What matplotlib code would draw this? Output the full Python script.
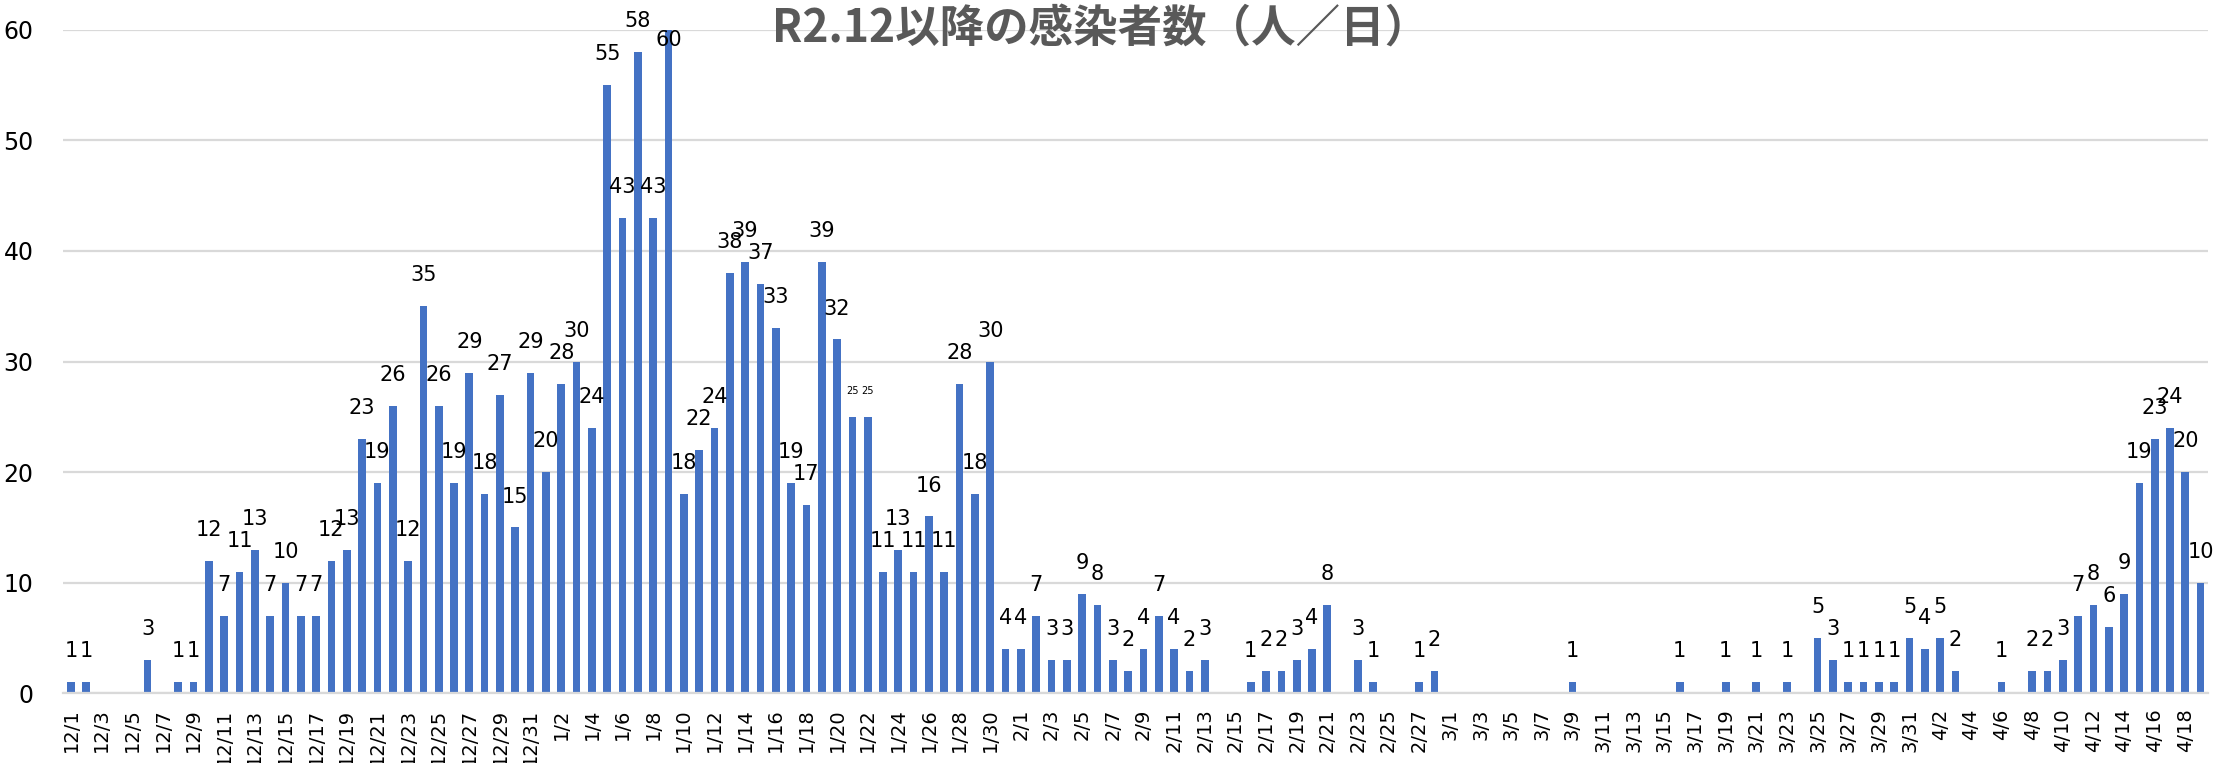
import matplotlib
matplotlib.use('Agg')
import matplotlib.pyplot as plt
import pandas as pd

title = 'R2.12以降の感染者数（人／日）'

# one bar per day, 12/1 .. 4/19
dates = pd.date_range('2020-12-01', '2021-04-19', freq='D')
day_labels = [f'{d.month}/{d.day}' for d in dates]

dec_counts = [1, 1, 0, 0, 0, 3, 0, 1, 1, 12, 7, 11, 13, 7, 10, 7, 7, 12, 13, 23,
              19, 26, 12, 35, 26, 19, 29, 18, 27, 15, 29]
jan_counts = [20, 28, 30, 24, 55, 43, 58, 43, 60, 18, 22, 24, 38, 39, 37, 33, 19, 17,
              39, 32, 25, 25, 11, 13, 11, 16, 11, 28, 18, 30, 4]
feb_counts = [4, 7, 3, 3, 9, 8, 3, 2, 4, 7, 4, 2, 3, 0, 0, 1, 2, 2, 3, 4, 8, 0, 3, 1,
              0, 0, 1, 2]
mar_counts = [0, 0, 0, 0, 0, 0, 0, 0, 1, 0, 0, 0, 0, 0, 0, 1, 0, 0, 1, 0, 1, 0, 1, 0,
              5, 3, 1, 1, 1, 1, 5]
apr_counts = [4, 5, 2, 0, 0, 1, 0, 2, 2, 3, 7, 8, 6, 9, 19, 23, 24, 20, 10]

counts = dec_counts + jan_counts + feb_counts + mar_counts + apr_counts
small_label_days = ['1/21', '1/22']  # these labels are tiny in the original

y_ticks = [0, 10, 20, 30, 40, 50, 60]
y_max = 60

W, H = 2223, 763
fig = plt.figure(figsize=(W / 100, H / 100), dpi=100)
ax = fig.add_axes([63.3 / W, 69.7 / H, 2145 / W, 663.6 / H])

x = list(range(len(counts)))
ax.bar(x, counts, width=0.5, color='#4472C4', zorder=2)

ax.set_xlim(-0.5, len(counts) - 0.5)
ax.set_ylim(0, y_max)
ax.set_yticks(y_ticks)
ax.yaxis.grid(True, color='#D9D9D9', linewidth=1.6, zorder=0)
ax.set_axisbelow(True)

for side in ['top', 'right', 'left']:
    ax.spines[side].set_visible(False)
ax.spines['bottom'].set_color('#D9D9D9')
ax.spines['bottom'].set_linewidth(1.6)

ax.tick_params(axis='y', length=0, pad=21.5, labelsize=17, labelcolor='#000000')
ax.set_xticks(x[::2])
ax.set_xticklabels(day_labels[::2], rotation=90, fontsize=14, va='top', ha='center')
ax.tick_params(axis='x', length=0, pad=11)

for i, v in enumerate(counts):
    if v == 0:
        continue
    size = 7 if day_labels[i] in small_label_days else 15
    if v > y_max - 2:
        # no room above the plot top, label sits over the bar end (like Excel)
        ax.annotate(str(v), (i, v), xytext=(0, 0), textcoords='offset points',
                    ha='center', va='top', fontsize=size, color='#000000')
    else:
        ax.annotate(str(v), (i, v), xytext=(0, 15), textcoords='offset points',
                    ha='center', va='bottom', fontsize=size, color='#000000')

fig.text(0.495, 1 - 30 / H, title, ha='center', va='center', fontsize=32,
         fontweight='bold', color='#595959',
         family=['Noto Sans CJK JP', 'DejaVu Sans'])

fig.savefig('out.png', dpi=100)
